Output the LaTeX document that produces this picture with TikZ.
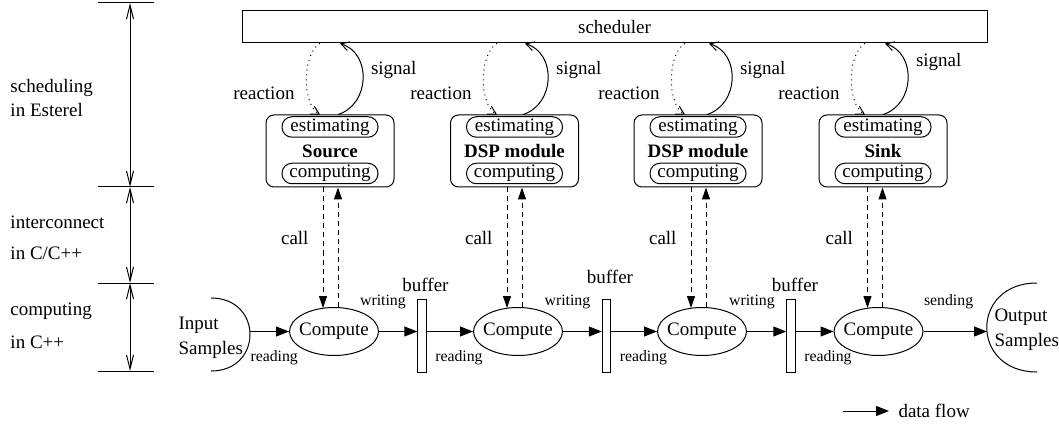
\documentclass[tikz,border=0pt]{standalone}
\usepackage{fontspec}
\setmainfont{Liberation Serif}
\usetikzlibrary{arrows.meta,calc,shapes.geometric}

\begin{document}
\begin{tikzpicture}[x=0.5pt,y=-0.5pt,line width=0.5pt,
    font=\fontsize{9.5}{12}\selectfont,
    lbl/.style={inner sep=0pt},
    smalltxt/.style={inner sep=0pt,font=\fontsize{7.9}{9}\selectfont},
    module/.style={draw,rounded corners=4pt,minimum width=64pt,minimum height=36pt,inner sep=0pt,font=\fontsize{9.5}{12}\selectfont\bfseries},
    part/.style={draw,rounded corners=5pt,minimum width=48pt,minimum height=10.25pt,inner sep=0pt},
    comp/.style={draw,ellipse,minimum width=44.5pt,minimum height=24pt,inner xsep=-2pt,inner ysep=0pt},
    buffer/.style={draw,minimum width=4.25pt,minimum height=36.5pt,inner sep=0pt},
    flow/.style={-{Triangle[length=6.5pt,width=5pt]}},
    call/.style={dash pattern=on 2.5pt off 2pt,-{Triangle[length=6pt,width=4pt]}},
    sig/.style={-{Straight Barb[length=4pt,width=4.5pt]}},
    react/.style={dotted,-{Straight Barb[length=4pt,width=4.5pt]}},
    dimline/.style={{Straight Barb[length=7pt,width=3.5pt]}-{Straight Barb[length=7pt,width=3.5pt]}}]
    \useasboundingbox (0,0) rectangle (1059,427);
    % Layer scale on the left
    \coordinate (lay0) at (130,3);
    \coordinate (lay1) at (130,187);
    \coordinate (lay2) at (130,283);
    \coordinate (lay3) at (130,371);
    \draw ($(lay0)+(-32,0)$) -- ($(lay0)+(24,0)$);
    \draw ($(lay1)+(-32,0)$) -- ($(lay1)+(24,0)$);
    \draw ($(lay2)+(-32,0)$) -- ($(lay2)+(24,0)$);
    \draw ($(lay3)+(-32,0)$) -- ($(lay3)+(24,0)$);
    \draw[dimline] (lay0) -- (lay1);
    \draw[dimline] (lay1) -- (lay2);
    \draw[dimline] (lay2) -- (lay3);
    \node[lbl,anchor=west,align=left] (layer1) at (10,98) {scheduling\\in Esterel};
    \node[lbl,anchor=west,align=left] (layer2) at (10,237.5) {interconnect\\[3.5pt]in C/C++};
    \node[lbl,anchor=west,align=left] (layer3) at (10,325.5) {computing\\[4.5pt]in C++};
    % Scheduler and modules
    \node[draw,minimum width=372.5pt,minimum height=16pt,inner sep=0pt] (sched) at (614.5,27) {scheduler};
    \node[module] (src) at (330,151) {Source};
    \node[module] (dsp1) at (514.5,151) {DSP module};
    \node[module] (dsp2) at (698,151) {DSP module};
    \node[module] (sink) at (883,151) {Sink};
    \node[part] (src-est) at ($(src)+(0,-24)$) {estimating};
    \node[part] (src-cmp) at ($(src)+(0,22.5)$) {computing};
    \node[part] (dsp1-est) at ($(dsp1)+(0,-24)$) {estimating};
    \node[part] (dsp1-cmp) at ($(dsp1)+(0,22.5)$) {computing};
    \node[part] (dsp2-est) at ($(dsp2)+(0,-24)$) {estimating};
    \node[part] (dsp2-cmp) at ($(dsp2)+(0,22.5)$) {computing};
    \node[part] (sink-est) at ($(sink)+(0,-24)$) {estimating};
    \node[part] (sink-cmp) at ($(sink)+(0,22.5)$) {computing};
    % Reactions and signals
    \draw[react] ($(sched.south -| src.north)+(-10,0)$) .. controls +(-18,10) and +(-18,-10) .. ($(src.north)+(-10,0)$) node[lbl,pos=.5,anchor=east,xshift=-5.75pt,yshift=-7pt] {reaction};
    \draw[sig] ($(src.north)+(8,0)$) .. controls +(32,-10) and +(32,10) .. ($(sched.south -| src.north)+(10,0)$) node[lbl,pos=.5,anchor=west,xshift=3.75pt,yshift=4.5pt] {signal};
    \draw[react] ($(sched.south -| dsp1.north)+(-17.5,0)$) .. controls +(-18,10) and +(-18,-10) .. ($(dsp1.north)+(-17.5,0)$) node[lbl,pos=.5,anchor=east,xshift=-5.75pt,yshift=-7pt] {reaction};
    \draw[sig] ($(dsp1.north)+(8.5,0)$) .. controls +(32,-10) and +(32,10) .. ($(sched.south -| dsp1.north)+(10.5,0)$) node[lbl,pos=.5,anchor=west,xshift=3.75pt,yshift=4.5pt] {signal};
    \draw[react] ($(sched.south -| dsp2.north)+(-13,0)$) .. controls +(-18,10) and +(-18,-10) .. ($(dsp2.north)+(-13,0)$) node[lbl,pos=.5,anchor=east,xshift=-5.75pt,yshift=-7pt] {reaction};
    \draw[sig] ($(dsp2.north)+(9,0)$) .. controls +(32,-10) and +(32,10) .. ($(sched.south -| dsp2.north)+(11,0)$) node[lbl,pos=.5,anchor=west,xshift=3.75pt,yshift=4.5pt] {signal};
    \draw[react] ($(sched.south -| sink.north)+(-18,0)$) .. controls +(-18,10) and +(-18,-10) .. ($(sink.north)+(-18,0)$) node[lbl,pos=.5,anchor=east,xshift=-5.75pt,yshift=-7pt] {reaction};
    \draw[sig] ($(sink.north)+(0,0)$) .. controls +(32,-10) and +(32,10) .. ($(sched.south -| sink.north)+(2,0)$) node[lbl,pos=.5,anchor=west,xshift=3.75pt,yshift=8.5pt] {signal};
    % Compute nodes and buffers
    \node[comp] (comp1) at (334,331.5) {Compute};
    \node[comp] (comp2) at (518,331.5) {Compute};
    \node[comp] (comp3) at (702,331.5) {Compute};
    \node[comp] (comp4) at (878.5,331.5) {Compute};
    \node[buffer] (buf1) at (422,335.5) {};
    \node[buffer] (buf2) at (606.5,335.5) {};
    \node[buffer] (buf3) at (791,335.5) {};
    \node[lbl] (buf1-lbl) at ($(buf1.north)+(3.5,-14)$) {buffer};
    \node[lbl] (buf2-lbl) at ($(buf2.north)+(3.5,-22)$) {buffer};
    \node[lbl] (buf3-lbl) at ($(buf3.north)+(4,-14)$) {buffer};
    % Calls
    \draw[call] ($(src.south -| comp1.north)+(-11,0)$) -- ($(comp1.north)+(-11,1)$) node[lbl,pos=.42,anchor=east,xshift=-7pt] {call};
    \draw[call] ($(comp1.north)+(4,0)$) -- ($(src.south -| comp1.north)+(4,0)$);
    \draw[call] ($(dsp1.south -| comp2.north)+(-11,0)$) -- ($(comp2.north)+(-11,1)$) node[lbl,pos=.42,anchor=east,xshift=-7pt] {call};
    \draw[call] ($(comp2.north)+(4,0)$) -- ($(dsp1.south -| comp2.north)+(4,0)$);
    \draw[call] ($(dsp2.south -| comp3.north)+(-11,0)$) -- ($(comp3.north)+(-11,1)$) node[lbl,pos=.42,anchor=east,xshift=-7pt] {call};
    \draw[call] ($(comp3.north)+(4,0)$) -- ($(dsp2.south -| comp3.north)+(4,0)$);
    \draw[call] ($(sink.south -| comp4.north)+(-11,0)$) -- ($(comp4.north)+(-11,1)$) node[lbl,pos=.42,anchor=east,xshift=-7pt] {call};
    \draw[call] ($(comp4.north)+(4,0)$) -- ($(sink.south -| comp4.north)+(4,0)$);
    % Input and output samples
    \draw (211,298) .. controls (263,298) and (263,371) .. (211,371);
    \coordinate (inport) at (250,331.5);
    \node[lbl,anchor=west,align=left] (input) at (178,337.5) {Input\\[0.5pt]Samples};
    \draw (1037,283) .. controls (970,283) and (970,372) .. (1037,372);
    \coordinate (outport) at (987,331.5);
    \node[lbl,anchor=west,align=left] (output) at (994,329.5) {Output\\[0.5pt]Samples};
    % Data flow
    \draw[flow] (inport) -- (comp1) node[smalltxt,pos=0,anchor=west,yshift=-13.25pt] {reading};
    \draw[flow] (comp1) -- (comp1 -| buf1.west) node[smalltxt,pos=1,anchor=east,xshift=-5.5pt,yshift=15pt] {writing};
    \draw[flow] (buf1.east |- comp2) -- (comp2) node[smalltxt,pos=0,anchor=west,xshift=4pt,yshift=-13.25pt] {reading};
    \draw[flow] (comp2) -- (comp2 -| buf2.west) node[smalltxt,pos=1,anchor=east,xshift=-5.5pt,yshift=15pt] {writing};
    \draw[flow] (buf2.east |- comp3) -- (comp3) node[smalltxt,pos=0,anchor=west,xshift=4pt,yshift=-13.25pt] {reading};
    \draw[flow] (comp3) -- (comp3 -| buf3.west) node[smalltxt,pos=1,anchor=east,xshift=-5.5pt,yshift=15pt] {writing};
    \draw[flow] (buf3.east |- comp4) -- (comp4) node[smalltxt,pos=0,anchor=west,xshift=4pt,yshift=-13.25pt] {reading};
    \draw[flow] (comp4) -- (outport) node[smalltxt,pos=0,anchor=west,yshift=15pt] {sending};
    % Legend
    \node[lbl,anchor=west] (legend) at (898,411) {data flow};
    \coordinate (legend-start) at (843,411);
    \draw[flow] (legend-start) -- ($(legend.west)+(-9,0)$);
\end{tikzpicture}
\end{document}
